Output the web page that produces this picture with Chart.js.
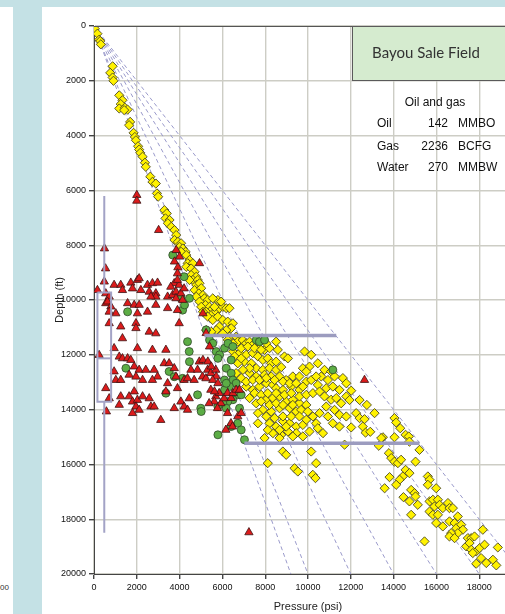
<!DOCTYPE html>
<html>
<head>
<meta charset="utf-8">
<title>Bayou Sale Field</title>
<script src="https://cdn.jsdelivr.net/npm/chart.js@4/dist/chart.umd.min.js"></script>
<style>
  html, body { margin: 0; padding: 0; background: #ffffff; overflow: hidden; width: 505px; height: 614px; }
  #bandTop { position: absolute; left: 0; top: 0; width: 505px; height: 7px; background: #c4e1e5; }
  #bandLeft { position: absolute; left: 13px; top: 0; width: 29px; height: 614px; background: #c4e1e5; }
  #frag { position: absolute; left: 0; top: 583px; font: 8px 'Liberation Sans', Arial, sans-serif; line-height: 10px; color: #333; }
  #wrap { position: absolute; left: 0; top: 0; width: 540px; height: 614px; }
  canvas { display: block; }
</style>
</head>
<body>
<div id="bandTop"></div>
<div id="bandLeft"></div>
<div id="frag">00</div>
<div id="wrap"><canvas id="chart" width="540" height="614"></canvas></div>
<script>
// Axis ticks (psi and ft)
const pressureTicks = [0, 2000, 4000, 6000, 8000, 10000, 12000, 14000, 16000, 18000, 20000];
const depthTicks = [0, 2000, 4000, 6000, 8000, 10000, 12000, 14000, 16000, 18000, 20000];

// Pressure gradients (psi/ft) drawn as dashed reference lines from the surface
const gradients = [0.46, 0.5, 0.6, 0.7, 0.8, 0.9, 1.0];

// Box-and-whisker of depths: min, lower quartile, median, upper quartile, max (ft)
const boxDepths = [6200, 9730, 12130, 13710, 18490];
const boxPressure = [160, 800];
const whiskerPressure = 480;

// Horizontal range bars (ft, psi from, psi to)
const barDepths = [11300, 15230];
const barStart = [5160, 7030];
const barEnd = [11320, 15210];

// Measured pressure / depth points [psi, ft]
const yellowDiamonds = [
  [40,100],[160,280],[240,500],[290,550],[320,670],[870,1470],[760,1710],[870,1880],[910,2000],[1180,2530],
  [1330,2710],[1250,2850],[1180,3010],[1440,2980],[1570,3050],[1410,3070],[1690,3500],[1640,3620],[1850,3900],[1910,4050],
  [1960,4170],[2060,4390],[2110,4510],[2160,4630],[2270,4770],[2380,4990],[2420,5140],[2630,5500],[2730,5690],[2890,5750],
  [2940,6110],[3000,6230],
  [3290,6720],[3400,6840],[3340,7020],[3530,7080],[3450,7200],[3610,7330],[3760,7450],[3840,7630],[3760,7810],[3920,7880],
  [4070,7930],[4000,8060],[4150,8120],[4280,8240],[4070,8240],[4310,8360],[4460,8540],[4380,8660],[4620,8660],[4310,8790],
  [4540,8850],[4700,8970],[4540,9090],[4780,9150],[4620,9270],[4850,9270],[4460,9270],[4780,9450],[4930,9390],[4700,9640],
  [5010,9570],[4900,9760],[5090,9820],[4780,9880],[5160,9940],[4930,10060],[5320,10000],[5210,10180],[5010,10250],[5400,10250],
  [5480,10370],[5240,10430],[5550,10490],[5710,10430],[5860,10300],[6020,10250],[6180,10300],[6330,10300],[5790,10000],[5550,9940],
  [5940,10060],[5630,10250],[5090,10430],[5320,10610],[5550,10730],[5790,10610],[6020,10730],[6250,10790],[6490,10850],[6410,11030],
  [6180,11100],[5860,10970],[5710,11100],[5480,11160],[5240,11100],[6020,11220],[6330,11340],[6640,11340],[6720,11520],[6490,11580],
  [6250,11460],[6950,11460],[7110,11580],[7270,11520],[7420,11640],[7580,11700],[7730,11760],[7970,11820],[8200,11760],[8050,11580],
  [8510,11520],[8590,11820],[9840,11880],
  [6490,11880],[6800,11940],[7110,12000],[7420,11940],[7660,12060],[7890,12190],[8120,12130],[8280,12310],[8510,12250],[8900,12060],
  [9060,12130],[7030,12250],[7350,12310],[6720,12310],[10150,12000],[10460,12310],[10070,12430],[9760,12490],[7580,12490],[7890,12550],
  [8200,12490],[8510,12550],[8750,12450],[7270,12670],[7580,12790],[7970,12730],[8280,12790],[8670,12790],[8980,12920],[9290,12790],
  [9600,12790],[9920,12610],[10770,12550],[11080,12610],[10620,12790],[10930,12920],[11240,12790],[11630,12850],[7110,13160],[7420,13280],
  [7730,13160],[8050,13040],[8360,13100],[8510,13220],[8830,13280],[9220,13160],[9600,13280],[9920,12980],[10460,13100],[10850,13220],
  [11160,13160],[11470,13280],[11790,13040],[7270,13580],[7580,13770],[8050,13640],[8360,13580],[8670,13520],[8980,13700],[9290,13640],
  [9600,13770],[9920,13830],[10770,13520],[11080,13640],[11320,13580],[11550,13770],[11790,13520],[7890,14010],[8280,14070],[8670,13950],
  [9140,13950],[9450,14070],[7660,14130],[10850,13890],[11240,14010],[10230,14250],[7660,14500],[8200,14500],[8510,14620],[8830,14430],
  [9140,14500],[9450,14620],[9760,14560],[11470,14190],[11790,14250],[8360,14860],[8750,14920],[9060,14800],[9450,14860],[9760,14980],
  [7970,15040],[8670,15040],[11710,15280],
  [6880,11760],[7190,11700],[7500,11760],[7810,11820],[6570,12060],[6880,12130],[7270,12490],[6960,12550],[6640,12670],[6880,12850],
  [7110,12980],[7420,12920],[7730,12920],[8050,12850],[8440,12920],[8830,12980],[9140,13040],[9450,13040],[9760,13160],[10150,12920],
  [10380,12790],[7500,13400],[7810,13460],[8120,13400],[8510,13400],[8900,13460],[9220,13400],[9600,13520],[9920,13460],[10230,13400],
  [10540,13340],[7810,13700],[8200,13830],[8510,13770],[8830,13830],[9290,13830],[9680,14010],[9990,14070],[8050,14250],[8440,14310],
  [8830,14250],[9220,14250],[9600,14250],[9920,14370],[10380,14500],[10540,14130],[10930,14250],[11160,14500],[11470,14620],[8980,14620],
  [8670,14740],[8120,14740],[9290,14980],[10070,14800],[10460,14680],[10700,14860],
  [12020,13310],[11940,13650],[12410,13650],[12750,13830],[13110,14130],[12250,14130],[12410,14310],[12640,14350],[12020,14650],[12560,14620],
  [12690,14840],[12910,14810],[13500,15010],[13420,15040],[14040,14310],[14120,14470],[14310,14680],[14040,15010],[14560,14920],[14710,14980],
  [14740,15170],[13310,15320],[15210,15470],
  [13780,15590],[13890,15770],[14040,15900],[14200,15955],[14350,15830],[15025,15900],[14560,16200],[14740,16320],[14430,16440],[14280,16560],
  [13810,16465],[14120,16745],[13580,16870],[14820,16930],[14980,17050],[15025,17170],[14460,17195],[14740,17350],[15130,17475],[14820,17840],
  [15600,16440],[15680,16560],[15600,16745],[15990,16870],[15680,17350],[15835,17290],[16070,17290],[15910,17535],[16150,17475],[16300,17595],
  [16540,17410],[16610,17595],[16770,17595],[15680,17720],[15835,17840],[16070,17840],[15990,18140],[16300,18265],[16610,18080],[17000,17900],
  [16850,18140],[16930,18325],[17160,18200],[17240,18385],[17000,18510],[16690,18510],[16610,18630],[16850,18690],[17470,18690],[17630,18690],
  [17780,18630],[17390,18990],[17550,18870],[17630,19115],[17860,19175],[17700,19236],[18020,19055],[18170,18385],[18250,18930],[18090,19420],
  [18330,19600],[17860,19625],[18640,19480],[18800,19685],[18870,19030],[15445,18810],
  [8120,15955],[8825,15530],[8980,15650],[9370,16140],[9525,16260],[10150,15530],[10380,15955],[10225,16380],[10350,16500]
];

const redTriangles = [
  [2000,6170],[2000,6380],[3020,7450],[490,8120],[540,8850],[3840,8180],[4000,8420],[3760,8600],[3920,8810],[4930,8660],
  [480,9330],[940,9450],[1250,9450],[1330,9640],[1720,9370],[2030,9270],[2110,9210],[1800,9580],[2190,9640],[2500,9450],
  [2730,9390],[2970,9370],[2580,9700],[2890,9760],[2890,9880],[2660,9880],[3440,9880],[3670,9820],[3830,9700],[3900,9030],
  [3750,9390],[160,9640],[550,9760],[550,10120],[710,9880],[630,10060],[790,10240],[1020,10490],[710,10430],[710,10850],
  [1250,10970],[1570,10120],[1880,10180],[2110,10180],[2030,10490],[2500,10430],[2890,10180],[3440,10300],[3900,10370],[3980,10850],
  [2580,11160],[2890,11220],[1960,10850],[1960,11030],[1330,11400],[2030,11760],[2730,11820],[3360,11820],[940,11760],[1180,12070],
  [1330,12130],[1570,12130],[1720,12190],[240,12010],[550,13220],[710,13590],[940,12610],[1020,12920],[1250,12920],[1640,12730],
  [1880,12430],[2110,12550],[1960,12800],[2270,12920],[2420,12550],[2810,12550],[2970,12800],[2730,12920],[3280,12310],[3510,12310],
  [3750,12490],[3830,12800],[3440,13040],[3360,13340],[3900,13220],[4210,12920],[4370,12860],[4530,12550],[4840,12550],[4680,12920],
  [4920,12250],[5310,12550],[5070,12800],[5230,12860],[5460,12670],[5690,12550],[1250,13520],[1180,13830],[1640,13520],[1880,13340],
  [1800,13710],[2030,13650],[2270,13520],[1960,13890],[1800,14130],[2110,14010],[2660,13890],[2810,13890],[2580,13590],[3120,14380],
  [3750,13950],[4060,13710],[4210,13890],[4370,14010],[4450,13590],[5460,13280],[5690,13520],[5850,13400],[5620,13710],[5930,13770],
  [6080,13590],[6240,13400],[5380,13770],[5770,13950],[6240,14130],[6400,14500],[6160,14740],[6470,14620],[580,14070],
  [3590,9520],[3980,9450],[4060,9760],[3830,9940],[4140,10000],[3900,9270],[4210,9580],
  [5090,12190],[5320,12250],[5480,12430],[5710,12790],[5550,12920],[5790,13040],[5630,13340],[6410,13580],[6490,13400],[6640,13280],
  [6800,13280],[6720,14250],[6880,14130],[5090,10490],[5240,11210],[5400,11700],
  [12640,12920],[7240,18480]
];

const greenCircles = [
  [4210,9150],[4140,10370],[4370,11520],[4450,11880],[1490,12490],[3510,12610],[3360,13400],[4140,12860],[4840,13460],[1570,10430],
  [3750,12800],[3680,8360],[4070,9940],[4460,9940],[4230,10180],[4990,13950],
  [5240,11090],[5400,11460],[5550,11580],[5710,11880],[5870,12000],[6100,11760],[6260,11580],[6490,11700],[6410,12190],[6180,12490],
  [6410,12670],[6100,12920],[6490,12920],[6640,13040],[6330,13160],[6100,13280],[6720,13460],[6490,13640],[6250,13710],[6020,13770],
  [6180,13950],[6880,13460],[6800,13950],[6720,14500],[6410,14620],[6880,14740],[5790,14920],[7030,15100],[7580,11460],[7730,11520],
  [7970,11460],[11160,12550],
  [4460,12250],[5790,13890],[6180,13040],[5790,12130],[5010,14070]
];

const toXY = arr => arr.map(p => ({ x: p[0], y: p[1] }));
const maxDepth = depthTicks[depthTicks.length - 1];

const lineColor = '#a3a3c6';
const datasets = [];

// Range bars
barDepths.forEach((d, i) => {
  datasets.push({
    data: [{ x: barStart[i], y: d }, { x: barEnd[i], y: d }],
    showLine: true, borderColor: '#9c9cbf', borderWidth: 3.5, pointRadius: 0, order: 0
  });
});

// Box and whiskers
const [dMin, dQ1, dMed, dQ3, dMax] = boxDepths;
const [bL, bR] = boxPressure;
[
  [{ x: bL, y: dQ1 }, { x: bR, y: dQ1 }, { x: bR, y: dQ3 }, { x: bL, y: dQ3 }, { x: bL, y: dQ1 }],
  [{ x: bL, y: dMed }, { x: bR, y: dMed }],
  [{ x: whiskerPressure, y: dMin }, { x: whiskerPressure, y: dQ1 }],
  [{ x: whiskerPressure, y: dQ3 }, { x: whiskerPressure, y: dMax }]
].forEach(seg => {
  datasets.push({ data: seg, showLine: true, borderColor: lineColor, borderWidth: 2, pointRadius: 0, order: 1 });
});

datasets.push({
  data: toXY(redTriangles), pointStyle: 'triangle', pointRadius: 4.8,
  backgroundColor: '#dc1b1b', borderColor: '#3b1414', borderWidth: 0.8, order: 2
});
datasets.push({
  data: toXY(greenCircles), pointStyle: 'circle', pointRadius: 4,
  backgroundColor: '#5cad45', borderColor: '#30472a', borderWidth: 0.8, order: 3
});
datasets.push({
  data: toXY(yellowDiamonds), pointStyle: 'rectRot', pointRadius: 4.6,
  backgroundColor: '#fff200', borderColor: '#4b4720', borderWidth: 0.9, order: 4
});

// Gradient lines
gradients.forEach(g => {
  datasets.push({
    data: [{ x: 0, y: 0 }, { x: g * maxDepth, y: maxDepth }],
    showLine: true, borderColor: '#9a9acb', borderWidth: 1, borderDash: [4, 3],
    pointRadius: 0, order: 10
  });
});

const fieldInfo = {
  id: 'fieldInfo',
  afterDraw(chart) {
    const ctx = chart.ctx;
    const a = chart.chartArea;
    ctx.save();
    // plot frame top edge
    ctx.strokeStyle = '#555';
    ctx.lineWidth = 1;
    ctx.beginPath();
    ctx.moveTo(a.left, a.top + 0.5);
    ctx.lineTo(a.right, a.top + 0.5);
    ctx.stroke();

    // field title box
    const bx = a.left + 258, by = a.top, bw = a.right - bx, bh = 54;
    ctx.fillStyle = '#d5ebcf';
    ctx.fillRect(bx, by, bw, bh);
    ctx.strokeStyle = '#5a5a5a';
    ctx.strokeRect(bx + 0.5, by + 0.5, bw, bh);
    ctx.fillStyle = '#333';
    ctx.textBaseline = 'middle';
    ctx.textAlign = 'center';
    ctx.font = '15px Lato, "Open Sans", sans-serif';
    ctx.fillText('Bayou Sale Field', a.left + 332, a.top + 27);

    // production summary
    ctx.font = '12px "Liberation Sans", Arial, sans-serif';
    ctx.fillStyle = '#111';
    ctx.fillText('Oil and gas', a.left + 341, a.top + 77);
    const rows = [['Oil', '142', 'MMBO'], ['Gas', '2236', 'BCFG'], ['Water', '270', 'MMBW']];
    const rowY = [98, 121, 142];
    rows.forEach((r, i) => {
      const y = a.top + rowY[i];
      ctx.textAlign = 'left';
      ctx.fillText(r[0], a.left + 283, y);
      ctx.textAlign = 'right';
      ctx.fillText(r[1], a.left + 354, y);
      ctx.textAlign = 'left';
      ctx.fillText(r[2], a.left + 364, y);
    });
    ctx.restore();
  }
};

const tickFont = { family: '"Liberation Sans", Arial, sans-serif', size: 9 };
const titleFont = { family: '"Liberation Sans", Arial, sans-serif', size: 11 };

new Chart(document.getElementById('chart'), {
  type: 'scatter',
  data: { datasets },
  options: {
    responsive: false,
    animation: false,
    events: [],
    devicePixelRatio: 1,
    layout: { padding: { left: 49, top: 26, right: 18, bottom: 0 } },
    plugins: { legend: { display: false }, tooltip: { enabled: false } },
    scales: {
      x: {
        type: 'linear', position: 'bottom', min: 0, max: 20000,
        afterBuildTicks: s => { s.ticks = pressureTicks.map(v => ({ value: v })); },
        afterFit: s => { s.height = 40; },
        ticks: { font: tickFont, color: '#111', padding: 3, maxRotation: 0, autoSkip: false, callback: v => String(v) },
        grid: { color: '#cdcdc5', lineWidth: 1.4, tickLength: 5, tickColor: '#444' },
        border: { color: '#444', width: 1 },
        title: { display: true, text: 'Pressure (psi)', font: titleFont, color: '#222', padding: { top: 0, bottom: 0 } }
      },
      y: {
        type: 'linear', position: 'left', min: 0, max: 20000, reverse: true,
        afterBuildTicks: s => { s.ticks = depthTicks.map(v => ({ value: v })); },
        afterFit: s => { s.width = 45; },
        ticks: { font: tickFont, color: '#111', padding: 3, autoSkip: false, callback: v => String(v) },
        grid: { color: '#cdcdc5', lineWidth: 1.4, tickLength: 5, tickColor: '#444' },
        border: { color: '#444', width: 1 },
        title: { display: true, text: 'Depth (ft)', font: titleFont, color: '#222', padding: { top: 4, bottom: 4 } }
      }
    }
  },
  plugins: [fieldInfo]
});
</script>
</body>
</html>
